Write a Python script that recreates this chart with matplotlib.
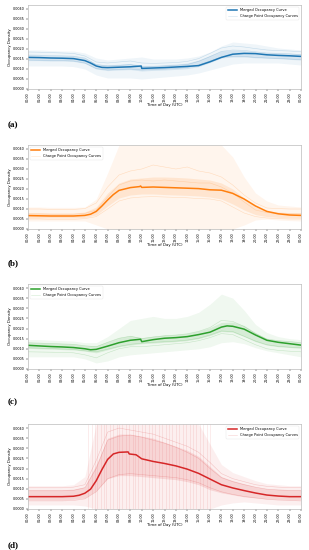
import matplotlib
matplotlib.use('Agg')
import matplotlib.pyplot as plt
import numpy as np

# hourly grid labels
hours = list(range(25))
tick_labels = ['%02d:00' % (h % 24) for h in hours]

# values typed in units of 1e-3 (occupancy density)
# ---- (a) blue
a_t = [0, 1, 2, 3, 4, 5, 5.5, 6, 6.5, 7, 8, 9, 9.95, 10, 11, 12, 13, 14, 15, 16, 17, 18, 19, 20, 21, 22, 23, 24]
a_merged = [1.58, 1.57, 1.55, 1.54, 1.52, 1.42, 1.30, 1.15, 1.08, 1.07, 1.09, 1.11, 1.15, 1.03,
            1.05, 1.07, 1.10, 1.13, 1.17, 1.36, 1.58, 1.74, 1.78, 1.77, 1.71, 1.68, 1.66, 1.63]
a_outer_lo = [1.15, 1.15, 1.15, 1.15, 1.12, 1.00, 0.70, 0.55, 0.55, 0.55, 0.50, 0.55, 0.60, 0.65, 0.70, 0.80, 0.95, 1.10, 1.25, 1.30, 1.30, 1.30, 1.30, 1.25, 1.20]
a_outer_hi = [1.95, 1.95, 1.92, 1.90, 1.90, 1.80, 1.55, 1.45, 1.50, 1.55, 1.60, 1.50, 1.50, 1.50, 1.55, 1.65, 1.85, 2.15, 2.35, 2.30, 2.25, 2.15, 2.05, 2.00, 1.95]
a_inner_lo = [1.42, 1.42, 1.40, 1.40, 1.38, 1.28, 1.00, 0.92, 0.95, 0.97, 0.90, 0.93, 0.95, 0.98, 1.02, 1.12, 1.32, 1.55, 1.60, 1.60, 1.56, 1.54, 1.52, 1.48, 1.45]
a_inner_hi = [1.72, 1.70, 1.68, 1.67, 1.66, 1.56, 1.25, 1.20, 1.24, 1.28, 1.18, 1.18, 1.22, 1.25, 1.30, 1.45, 1.68, 1.90, 1.94, 1.92, 1.86, 1.82, 1.80, 1.78, 1.76]
a_cp1 = [1.70, 1.69, 1.67, 1.66, 1.64, 1.55, 1.22, 1.16, 1.18, 1.22, 1.10, 1.12, 1.15, 1.18, 1.22, 1.38, 1.62, 1.88, 1.95, 1.93, 1.86, 1.80, 1.78, 1.76, 1.72]
a_cp2 = [1.45, 1.44, 1.43, 1.42, 1.40, 1.30, 1.02, 0.95, 0.98, 1.00, 0.95, 0.98, 1.00, 1.03, 1.08, 1.20, 1.40, 1.60, 1.62, 1.63, 1.58, 1.55, 1.53, 1.50, 1.47]
a_cp3 = [1.85, 1.84, 1.82, 1.80, 1.78, 1.65, 1.35, 1.30, 1.35, 1.40, 1.30, 1.28, 1.30, 1.32, 1.38, 1.52, 1.78, 2.05, 2.15, 2.10, 2.02, 1.95, 1.92, 1.90, 1.86]

# ---- (b) orange
b_t = [0, 1, 2, 3, 4, 5, 5.5, 6, 6.5, 7, 7.5, 8, 9, 9.8, 9.9, 10, 11, 12, 13, 14, 15, 16, 17, 18, 19, 20, 21, 22, 23, 24]
b_merged = [0.67, 0.66, 0.65, 0.65, 0.65, 0.68, 0.74, 0.88, 1.15, 1.45, 1.72, 1.93, 2.07, 2.12, 2.15, 2.08,
            2.10, 2.08, 2.06, 2.04, 2.02, 1.96, 1.94, 1.78, 1.50, 1.15, 0.88, 0.76, 0.70, 0.68]
b_outer_lo = [0.40, 0.40, 0.40, 0.40, 0.40, 0.40, 0.20, 0.0, 0.0, 0.0, 0.0, 0.0, 0.0, 0.0, 0.0, 0.0, 0.0, 0.0, 0.0, 0.20, 0.45, 0.50, 0.45, 0.42, 0.40]
b_outer_hi = [1.10, 1.10, 1.08, 1.08, 1.08, 1.10, 1.50, 2.80, 4.20, 4.20, 4.20, 4.20, 4.20, 4.20, 4.20, 4.20, 4.20, 4.20, 3.60, 2.60, 1.80, 1.40, 1.20, 1.15, 1.10]
b_inner_lo = [0.55, 0.55, 0.55, 0.55, 0.55, 0.58, 0.70, 1.15, 1.55, 1.70, 1.75, 1.75, 1.72, 1.70, 1.68, 1.65, 1.60, 1.50, 1.25, 0.95, 0.72, 0.62, 0.58, 0.56, 0.55]
b_inner_hi = [0.82, 0.82, 0.80, 0.80, 0.80, 0.85, 1.10, 1.80, 2.30, 2.50, 2.55, 2.60, 2.60, 2.58, 2.55, 2.50, 2.45, 2.30, 2.00, 1.55, 1.10, 0.92, 0.85, 0.82, 0.82]
b_cp1 = [1.00, 1.00, 0.98, 0.98, 0.98, 1.02, 1.30, 2.10, 2.70, 2.90, 3.00, 3.20, 3.10, 3.00, 3.10, 2.90, 2.80, 2.60, 2.20, 1.70, 1.30, 1.05, 1.02, 1.00, 1.00]
b_cp2 = [0.50, 0.50, 0.48, 0.48, 0.48, 0.52, 0.62, 1.00, 1.40, 1.55, 1.60, 1.62, 1.60, 1.58, 1.56, 1.52, 1.50, 1.40, 1.10, 0.80, 0.62, 0.55, 0.52, 0.50, 0.50]
b_cp3 = [0.75, 0.75, 0.74, 0.74, 0.74, 0.78, 0.95, 1.60, 2.20, 2.40, 2.45, 2.40, 2.45, 2.40, 2.35, 2.30, 2.30, 2.10, 1.80, 1.35, 0.95, 0.82, 0.78, 0.76, 0.75]

# ---- (c) green
c_t = [0, 1, 2, 3, 4, 5, 5.5, 6, 7, 8, 9, 9.9, 10, 11, 12, 13, 14, 15, 16, 17, 17.5, 18, 19, 20, 21, 22, 23, 24]
c_merged = [1.17, 1.14, 1.11, 1.09, 1.06, 1.00, 0.95, 0.97, 1.13, 1.30, 1.42, 1.47, 1.35,
            1.45, 1.52, 1.55, 1.60, 1.70, 1.82, 2.07, 2.13, 2.11, 1.97, 1.68, 1.42, 1.32, 1.25, 1.18]
c_outer_lo = [0.60, 0.60, 0.60, 0.60, 0.60, 0.50, 0.30, 0.40, 0.60, 0.70, 0.75, 0.80, 0.85, 0.90, 0.95, 1.00, 1.10, 1.30, 1.35, 1.25, 1.05, 0.90, 0.80, 0.70, 0.60]
c_outer_hi = [1.45, 1.45, 1.42, 1.40, 1.38, 1.30, 1.30, 1.60, 2.00, 2.40, 2.50, 2.60, 2.50, 2.50, 2.60, 2.80, 3.20, 3.70, 3.50, 2.90, 2.20, 1.80, 1.60, 1.50, 1.45]
c_inner_lo = [1.02, 1.00, 0.98, 0.96, 0.94, 0.88, 0.80, 0.95, 1.10, 1.18, 1.25, 1.28, 1.32, 1.35, 1.40, 1.50, 1.65, 1.85, 1.82, 1.60, 1.35, 1.18, 1.10, 1.06, 1.02]
c_inner_hi = [1.32, 1.30, 1.28, 1.26, 1.24, 1.16, 1.15, 1.35, 1.55, 1.65, 1.55, 1.62, 1.68, 1.70, 1.76, 1.88, 2.05, 2.30, 2.32, 2.15, 1.80, 1.50, 1.42, 1.38, 1.32]
c_cp1 = [1.30, 1.28, 1.26, 1.24, 1.22, 1.15, 1.10, 1.32, 1.52, 1.62, 1.50, 1.58, 1.64, 1.68, 1.74, 1.86, 2.05, 2.40, 2.35, 2.10, 1.75, 1.48, 1.40, 1.36, 1.30]
c_cp2 = [1.05, 1.03, 1.01, 0.99, 0.97, 0.90, 0.85, 0.98, 1.12, 1.22, 1.28, 1.32, 1.35, 1.38, 1.43, 1.52, 1.68, 1.88, 1.85, 1.62, 1.38, 1.20, 1.12, 1.08, 1.05]
c_cp3 = [0.85, 0.84, 0.83, 0.82, 0.80, 0.70, 0.55, 0.80, 1.00, 1.10, 1.10, 1.15, 1.20, 1.25, 1.30, 1.40, 1.55, 1.75, 1.70, 1.45, 1.20, 1.00, 0.92, 0.88, 0.85]

# ---- (d) red
d_t = [0, 1, 2, 3, 4, 4.5, 5, 5.5, 6, 6.5, 7, 7.5, 8, 8.8, 8.9, 9.5, 10, 11, 12, 13, 14, 15, 16, 17, 18, 19, 20, 21, 22, 23, 24]
d_merged = [0.61, 0.61, 0.61, 0.61, 0.63, 0.68, 0.78, 0.98, 1.40, 1.95, 2.45, 2.72, 2.80, 2.82, 2.72, 2.68,
            2.48, 2.35, 2.25, 2.13, 1.97, 1.76, 1.48, 1.20, 1.04, 0.91, 0.79, 0.69, 0.64, 0.61, 0.61]
d_outer_lo = [0.20, 0.20, 0.20, 0.20, 0.20, 0.15, 0.00, 0.00, 0.00, 0.00, 0.00, 0.00, 0.00, 0.00, 0.00, 0.00, 0.00, 0.20, 0.30, 0.35, 0.30, 0.25, 0.20, 0.20, 0.20]
d_outer_hi = [1.15, 1.15, 1.15, 1.15, 1.20, 1.60, 4.20, 4.20, 4.20, 4.20, 4.20, 4.20, 4.20, 4.20, 4.20, 4.20, 3.20, 2.20, 1.80, 1.60, 1.40, 1.25, 1.20, 1.15, 1.15]
d_inner_lo = [0.45, 0.45, 0.45, 0.45, 0.48, 0.55, 0.90, 1.50, 1.65, 1.65, 1.60, 1.55, 1.50, 1.45, 1.35, 1.20, 0.95, 0.80, 0.70, 0.60, 0.55, 0.50, 0.48, 0.45, 0.45]
d_inner_hi = [0.95, 0.95, 0.95, 0.95, 0.98, 1.10, 2.20, 3.50, 3.70, 3.70, 3.60, 3.50, 3.30, 3.10, 2.90, 2.60, 2.10, 1.60, 1.40, 1.25, 1.10, 1.00, 0.97, 0.95, 0.95]
d_cp1 = [0.90, 0.90, 0.90, 0.90, 0.92, 1.05, 2.00, 3.40, 3.60, 3.65, 3.55, 3.40, 3.25, 3.05, 2.80, 2.50, 2.00, 1.55, 1.35, 1.20, 1.08, 0.98, 0.94, 0.92, 0.90]
d_cp2 = [0.40, 0.40, 0.40, 0.40, 0.42, 0.50, 0.85, 1.50, 1.70, 1.75, 1.70, 1.65, 1.60, 1.55, 1.45, 1.30, 1.05, 0.85, 0.72, 0.62, 0.55, 0.48, 0.44, 0.42, 0.40]
d_cp3 = [1.05, 1.05, 1.05, 1.05, 1.08, 1.20, 2.40, 3.80, 4.00, 3.90, 3.80, 3.70, 3.50, 3.30, 3.10, 2.80, 2.30, 1.75, 1.50, 1.35, 1.20, 1.12, 1.08, 1.06, 1.05]
# vertical jumps seen in the red charge point curves (hours)
d_jumps = [5.3, 5.6, 5.9, 6.1, 6.4, 6.7, 6.9, 7.2, 7.5, 7.8, 8.0, 8.3, 8.6, 8.9, 9.2, 9.4, 9.7,
           10.0, 10.3, 10.6, 10.9, 11.2, 11.5, 11.8, 12.1, 12.4, 12.7, 13.0, 13.3, 13.6, 13.9,
           14.2, 14.5, 14.8, 15.1, 15.4, 15.7, 16.0]

panels = [
    ('(a)', '#1f77b4', a_t, a_merged, a_outer_lo, a_outer_hi, a_inner_lo, a_inner_hi, [a_cp1, a_cp2, a_cp3], 'upper right'),
    ('(b)', '#ff7f0e', b_t, b_merged, b_outer_lo, b_outer_hi, b_inner_lo, b_inner_hi, [b_cp1, b_cp2, b_cp3], 'upper left'),
    ('(c)', '#2ca02c', c_t, c_merged, c_outer_lo, c_outer_hi, c_inner_lo, c_inner_hi, [c_cp1, c_cp2, c_cp3], 'upper left'),
    ('(d)', '#d62728', d_t, d_merged, d_outer_lo, d_outer_hi, d_inner_lo, d_inner_hi, [d_cp1, d_cp2, d_cp3], 'upper right'),
]

# axes boxes in pixels (top, bottom) and panel label y
W, H = 309, 550
boxes = [(5, 89, 125), (145, 229, 263), (284, 369, 402), (424, 509, 545)]

fig = plt.figure(figsize=(W / 100, H / 100), dpi=100)
s = 1e-3

for (tag, col, t, merged, olo, ohi, ilo, ihi, cps, loc), (top, bot, ly) in zip(panels, boxes):
    ax = fig.add_axes([28 / W, 1 - bot / H, (301 - 28) / W, (bot - top) / H])
    ax.fill_between(hours, np.array(olo) * s, np.array(ohi) * s, color=col, alpha=0.07, lw=0)
    ax.fill_between(hours, np.array(ilo) * s, np.array(ihi) * s, color=col, alpha=0.13, lw=0)
    if tag == '(d)':
        ax.vlines(d_jumps, 0, 0.0042, color=col, alpha=0.12, lw=0.5)
    for i, cp in enumerate(cps):
        ax.plot(hours, np.array(cp) * s, color=col, alpha=0.22, lw=0.4,
                label='Charge Point Occupancy Curves' if i == 0 else None)
    ax.plot(t, np.array(merged) * s, color=col, lw=1.1, label='Merged Occupancy Curve')

    ax.set_xlim(0, 24)
    ax.set_ylim(0, 0.0042)
    ax.set_xticks(hours)
    ax.set_xticklabels(tick_labels, rotation=90, fontsize=2.4)
    ax.set_yticks(np.arange(0, 0.00401, 0.0005))
    ax.set_yticklabels(['%.4f' % v for v in np.arange(0, 0.00401, 0.0005)], fontsize=2.4)
    ax.tick_params(length=1.2, width=0.3, pad=1)
    ax.set_xlabel('Time of Day (UTC)', fontsize=2.8, labelpad=1)
    ax.set_ylabel('Occupancy Density', fontsize=2.8, labelpad=1)
    for sp in ax.spines.values():
        sp.set_color('#bbbbbb')
        sp.set_linewidth(0.5)

    h, l = ax.get_legend_handles_labels()
    leg = ax.legend(h[::-1], l[::-1], loc=loc, fontsize=2.6, frameon=True,
                    edgecolor='#dddddd', handlelength=2.5, borderpad=0.4)
    leg.get_frame().set_linewidth(0.3)

    fig.text(8 / W, 1 - ly / H, tag, fontsize=6.5, fontweight='bold',
             family='Liberation Serif', va='center', ha='left')

fig.savefig('out.png', dpi=100)
